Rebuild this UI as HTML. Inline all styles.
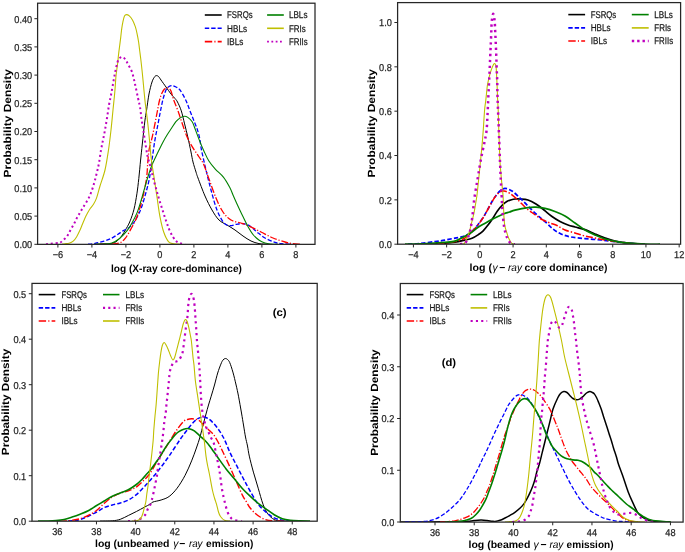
<!DOCTYPE html>
<html><head><meta charset="utf-8"><style>
html,body{margin:0;padding:0;background:#fff;width:685px;height:552px;overflow:hidden}
svg{will-change:transform;text-rendering:geometricPrecision;display:block;font-family:"Liberation Sans",sans-serif}
</style></head><body>
<svg width="685" height="552" viewBox="0 0 685 552">
<rect width="685" height="552" fill="#fff"/>
<defs>
<clipPath id="c1"><rect x="37.6" y="3.2" width="277.4" height="240.95"/></clipPath>
<clipPath id="c2"><rect x="397.6" y="2.6" width="283" height="241.4"/></clipPath>
<clipPath id="c3"><rect x="32" y="283.4" width="285.2" height="237.6"/></clipPath>
<clipPath id="c4"><rect x="400.3" y="283.5" width="282.8" height="238.4"/></clipPath>
</defs>
<g clip-path="url(#c1)" stroke-linejoin="round">
<path d="M95,244.2C96.67,244.17 102.5,244.07 105,244C107.5,243.93 108.2,244.15 110,243.8C111.8,243.45 113.88,243.17 115.8,241.9C117.72,240.63 119.75,238.43 121.5,236.2C123.25,233.97 124.85,231.07 126.3,228.5C127.75,225.93 128.92,224.02 130.2,220.8C131.48,217.58 132.88,213.7 134,209.2C135.12,204.7 136.1,198.92 136.9,193.8C137.7,188.68 138.18,184.13 138.8,178.5C139.42,172.87 140.03,165.58 140.6,160C141.17,154.42 141.7,149.67 142.2,145C142.7,140.33 143.13,136.17 143.6,132C144.07,127.83 144.5,123.67 145,120C145.5,116.33 145.93,114.33 146.6,110C147.27,105.67 148.1,98.67 149,94C149.9,89.33 151.08,84.83 152,82C152.92,79.17 153.78,78.07 154.5,77C155.22,75.93 155.63,75.68 156.3,75.6C156.97,75.52 157.72,75.77 158.5,76.5C159.28,77.23 159.75,78.25 161,80C162.25,81.75 164.33,84.67 166,87C167.67,89.33 169.5,92.08 171,94C172.5,95.92 173.92,97.17 175,98.5C176.08,99.83 176.45,99.93 177.5,102C178.55,104.07 180.12,107.25 181.3,110.9C182.48,114.55 183.52,119.55 184.6,123.9C185.68,128.25 186.73,132.32 187.8,137C188.87,141.68 190.13,147.83 191,152C191.87,156.17 192.17,158.67 193,162C193.83,165.33 195.17,169.33 196,172C196.83,174.67 196.5,174 198,178C199.5,182 202.67,190.67 205,196C207.33,201.33 209.67,206 212,210C214.33,214 216.5,217.5 219,220C221.5,222.5 224.33,223.33 227,225C229.67,226.67 232.33,228.17 235,230C237.67,231.83 240.33,234.17 243,236C245.67,237.83 248.33,239.73 251,241C253.67,242.27 256.17,243.07 259,243.6C261.83,244.13 266.5,244.1 268,244.2" stroke="#000000" stroke-width="1" fill="none"/>
<path d="M88,244.2C89.17,244.07 92.33,243.9 95,243.4C97.67,242.9 101.33,242.02 104,241.2C106.67,240.38 108.72,239.62 111,238.5C113.28,237.38 115.62,235.82 117.7,234.5C119.78,233.18 121.58,231.77 123.5,230.6C125.42,229.43 127.28,229.13 129.2,227.5C131.12,225.87 133.07,223.85 135,220.8C136.93,217.75 139.03,213.7 140.8,209.2C142.57,204.7 144.17,198.92 145.6,193.8C147.03,188.68 148.33,184.13 149.4,178.5C150.47,172.87 151.12,166.2 152,160C152.88,153.8 153.8,146.77 154.7,141.3C155.6,135.83 156.5,131.92 157.4,127.2C158.3,122.48 159.2,117.53 160.1,113C161,108.47 161.82,103.83 162.8,100C163.78,96.17 164.97,92.25 166,90C167.03,87.75 168,87.23 169,86.5C170,85.77 170.83,85.52 172,85.6C173.17,85.68 174.67,86.27 176,87C177.33,87.73 178.38,87.83 180,90C181.62,92.17 184.03,96.52 185.7,100C187.37,103.48 188.57,107.28 190,110.9C191.43,114.52 193.03,118.45 194.3,121.7C195.57,124.95 196.68,127.52 197.6,130.4C198.52,133.28 199.15,135.73 199.8,139C200.45,142.27 200.47,144.83 201.5,150C202.53,155.17 204.42,163.33 206,170C207.58,176.67 209.17,183.33 211,190C212.83,196.67 214.83,204.5 217,210C219.17,215.5 221.83,220.4 224,223C226.17,225.6 228,225.37 230,225.6C232,225.83 233.83,224.73 236,224.4C238.17,224.07 240.67,223.33 243,223.6C245.33,223.87 247.67,224.6 250,226C252.33,227.4 254.5,230 257,232C259.5,234 262,236.27 265,238C268,239.73 272,241.43 275,242.4C278,243.37 280.17,243.5 283,243.8C285.83,244.1 290.5,244.13 292,244.2" stroke="#0000ff" stroke-width="1.3" fill="none" stroke-dasharray="4.2 2"/>
<path d="M100,244.2C101.67,244.17 106.73,244.22 110,244C113.27,243.78 117.03,243.88 119.6,242.9C122.17,241.92 123.47,240.5 125.4,238.1C127.33,235.7 129.28,232.03 131.2,228.5C133.12,224.97 134.98,222.03 136.9,216.9C138.82,211.77 141.1,204.1 142.7,197.7C144.3,191.3 145.65,184.45 146.5,178.5C147.35,172.55 147.35,166.92 147.8,162C148.25,157.08 148.5,153 149.2,149C149.9,145 151.08,142 152,138C152.92,134 153.8,129.5 154.7,125C155.6,120.5 156.58,115.17 157.4,111C158.22,106.83 158.83,103 159.6,100C160.37,97 161.18,94.83 162,93C162.82,91.17 163.7,89.87 164.5,89C165.3,88.13 166.05,87.88 166.8,87.8C167.55,87.72 168.3,87.97 169,88.5C169.7,89.03 170.22,89.08 171,91C171.78,92.92 172.53,96.67 173.7,100C174.87,103.33 176.55,107 178,111C179.45,115 180.95,119.83 182.4,124C183.85,128.17 185.07,132.22 186.7,136C188.33,139.78 190.2,143.28 192.2,146.7C194.2,150.12 196.82,153.62 198.7,156.5C200.58,159.38 201.78,160.25 203.5,164C205.22,167.75 206.92,173.33 209,179C211.08,184.67 213.67,192.5 216,198C218.33,203.5 220.5,208.33 223,212C225.5,215.67 228,218.17 231,220C234,221.83 238,222 241,223C244,224 245.67,224.5 249,226C252.33,227.5 257,230 261,232C265,234 269,236.33 273,238C277,239.67 281.67,241.07 285,242C288.33,242.93 290.5,243.23 293,243.6C295.5,243.97 298.83,244.1 300,244.2" stroke="#ff0000" stroke-width="1.3" fill="none" stroke-dasharray="7 1.8 1.2 1.8"/>
<path d="M95,244.2C96.67,244.13 102.18,244.02 105,243.8C107.82,243.58 109.47,243.78 111.9,242.9C114.33,242.02 117.03,240.58 119.6,238.5C122.17,236.42 125.22,233.03 127.3,230.4C129.38,227.77 130.5,225.58 132.1,222.7C133.7,219.82 135.45,216.63 136.9,213.1C138.35,209.57 139.52,205.67 140.8,201.5C142.08,197.33 143.32,192.52 144.6,188.1C145.88,183.68 147.27,178.85 148.5,175C149.73,171.15 150.88,167.83 152,165C153.12,162.17 154.03,160.5 155.2,158C156.37,155.5 157.73,152.6 159,150C160.27,147.4 161.43,144.93 162.8,142.4C164.17,139.87 165.75,137.15 167.2,134.8C168.65,132.45 170.05,130.48 171.5,128.3C172.95,126.12 174.45,123.43 175.9,121.7C177.35,119.97 178.8,118.8 180.2,117.9C181.6,117 183.03,116.38 184.3,116.3C185.57,116.22 186.48,116.5 187.8,117.4C189.12,118.3 191.08,120.05 192.2,121.7C193.32,123.35 193.32,124.23 194.5,127.3C195.68,130.37 197.7,136.08 199.3,140.1C200.9,144.12 202.5,147.92 204.1,151.4C205.7,154.88 207.03,158.05 208.9,161C210.77,163.95 212.88,166.42 215.3,169.1C217.72,171.78 220.98,174.03 223.4,177.1C225.82,180.17 228.2,184.52 229.8,187.5C231.4,190.48 231.8,192.25 233,195C234.2,197.75 235.55,200.83 237,204C238.45,207.17 239.95,210.38 241.7,214C243.45,217.62 245.55,222.2 247.5,225.7C249.45,229.2 251.45,232.57 253.4,235C255.35,237.43 257.27,238.97 259.2,240.3C261.13,241.63 263.03,242.38 265,243C266.97,243.62 268.83,243.78 271,244C273.17,244.22 276.83,244.25 278,244.3" stroke="#008000" stroke-width="1.1" fill="none"/>
<path d="M62,244.2C62.5,244.13 63.82,243.97 65,243.8C66.18,243.63 67.73,243.63 69.1,243.2C70.47,242.77 71.93,242.28 73.2,241.2C74.47,240.12 75.6,238.47 76.7,236.7C77.8,234.93 78.87,232.63 79.8,230.6C80.73,228.57 81.47,226.53 82.3,224.5C83.13,222.47 83.95,220.27 84.8,218.4C85.65,216.53 86.47,214.98 87.4,213.3C88.33,211.62 89.38,209.82 90.4,208.3C91.42,206.78 92.48,205.9 93.5,204.2C94.52,202.5 95.42,201.13 96.5,198.1C97.58,195.07 98.58,190.68 100,186C101.42,181.32 103.58,176 105,170C106.42,164 107.5,156.67 108.5,150C109.5,143.33 110.25,136.67 111,130C111.75,123.33 112.37,116.33 113,110C113.63,103.67 114.3,97.67 114.8,92C115.3,86.33 115.53,80.72 116,76C116.47,71.28 117.18,67.2 117.6,63.7C118.02,60.2 118.17,57.9 118.5,55C118.83,52.1 119.23,49.2 119.6,46.3C119.97,43.4 120.35,40.5 120.7,37.6C121.05,34.7 121.32,31.62 121.7,28.9C122.08,26.18 122.53,23.47 123,21.3C123.47,19.13 123.93,17.02 124.5,15.9C125.07,14.78 125.6,14.6 126.4,14.6C127.2,14.6 128.27,14.97 129.3,15.9C130.33,16.83 131.6,18.4 132.6,20.2C133.6,22 134.57,24.52 135.3,26.7C136.03,28.88 136.45,30.75 137,33.3C137.55,35.85 138.15,39.1 138.6,42C139.05,44.9 139.33,47.82 139.7,50.7C140.07,53.58 140.42,56.08 140.8,59.3C141.18,62.52 141.63,66.55 142,70C142.37,73.45 142.52,75 143,80C143.48,85 144.32,94.5 144.9,100C145.48,105.5 145.95,108.47 146.5,113C147.05,117.53 147.65,122.12 148.2,127.2C148.75,132.28 149.28,138.17 149.8,143.5C150.32,148.83 150.57,153.37 151.3,159.2C152.03,165.03 153.23,172.08 154.2,178.5C155.17,184.92 156.13,191.3 157.1,197.7C158.07,204.1 158.88,211.13 160,216.9C161.12,222.67 162.35,228.13 163.8,232.3C165.25,236.47 167,239.98 168.7,241.9C170.4,243.82 172.12,243.42 174,243.8C175.88,244.18 179,244.13 180,244.2" stroke="#bfbf00" stroke-width="1.1" fill="none"/>
<path d="M46,244.2C46.67,244.13 48.33,243.97 50,243.8C51.67,243.63 54.33,243.38 56,243.2C57.67,243.02 58.87,243.17 60,242.7C61.13,242.23 61.78,241.28 62.8,240.4C63.82,239.52 65.13,238.5 66.1,237.4C67.07,236.3 67.85,235.07 68.6,233.8C69.35,232.53 69.87,231.15 70.6,229.8C71.33,228.45 72.23,227.07 73,225.7C73.77,224.33 74.5,222.98 75.2,221.6C75.9,220.22 76.48,218.75 77.2,217.4C77.92,216.05 78.73,214.82 79.5,213.5C80.27,212.18 81.03,210.8 81.8,209.5C82.57,208.2 83.3,207 84.1,205.7C84.9,204.4 85.8,203.05 86.6,201.7C87.4,200.35 88.18,199.05 88.9,197.6C89.62,196.15 90.22,194.77 90.9,193C91.58,191.23 92.32,189.17 93,187C93.68,184.83 94.33,182.5 95,180C95.67,177.5 96.33,174.83 97,172C97.67,169.17 98.33,166.67 99,163C99.67,159.33 100.33,153.83 101,150C101.67,146.17 102.33,143.33 103,140C103.67,136.67 104.33,133.67 105,130C105.67,126.33 106.33,122.17 107,118C107.67,113.83 108.33,108.83 109,105C109.67,101.17 110.33,98.5 111,95C111.67,91.5 112.33,87.67 113,84C113.67,80.33 114.27,76.57 115,73C115.73,69.43 116.68,65.02 117.4,62.6C118.12,60.18 118.4,59.43 119.3,58.5C120.2,57.57 121.7,56.68 122.8,57C123.9,57.32 125.03,59.2 125.9,60.4C126.77,61.6 126.98,62.27 128,64.2C129.02,66.13 130.83,68.7 132,72C133.17,75.3 134,79.67 135,84C136,88.33 137.17,94.17 138,98C138.83,101.83 139.4,103.4 140,107C140.6,110.6 141.05,115.7 141.6,119.6C142.15,123.5 142.67,126.42 143.3,130.4C143.93,134.38 144.68,139.15 145.4,143.5C146.12,147.85 146.75,152.58 147.6,156.5C148.45,160.42 149.55,163.33 150.5,167C151.45,170.67 152.03,173.7 153.3,178.5C154.57,183.3 156.5,190.35 158.1,195.8C159.7,201.25 161.47,206.72 162.9,211.2C164.33,215.68 165.58,219.5 166.7,222.7C167.82,225.9 168.55,228.02 169.6,230.4C170.65,232.78 171.93,235.23 173,237C174.07,238.77 174.83,239.97 176,241C177.17,242.03 178.5,242.67 180,243.2C181.5,243.73 184.17,244.03 185,244.2" stroke="#bf00bf" stroke-width="2" fill="none" stroke-dasharray="2 2.8"/>
</g>
<g clip-path="url(#c2)" stroke-linejoin="round">
<path d="M420,244.2C423.33,244.1 434.17,243.95 440,243.6C445.83,243.25 450.93,242.67 455,242.1C459.07,241.53 461.57,240.83 464.4,240.2C467.23,239.57 469.65,239.25 472,238.3C474.35,237.35 476.63,235.75 478.5,234.5C480.37,233.25 481.62,232.37 483.2,230.8C484.78,229.23 486.42,227.15 488,225.1C489.58,223.05 491.13,220.85 492.7,218.5C494.27,216.15 495.83,213.18 497.4,211C498.97,208.82 500.53,206.97 502.1,205.4C503.67,203.83 505.23,202.55 506.8,201.6C508.37,200.65 510.05,200.13 511.5,199.7C512.95,199.27 514.08,199.12 515.5,199C516.92,198.88 517.92,198.83 520,199C522.08,199.17 525.33,199.17 528,200C530.67,200.83 533.33,202.33 536,204C538.67,205.67 541.33,207.92 544,210C546.67,212.08 549.33,214.58 552,216.5C554.67,218.42 557.33,220.08 560,221.5C562.67,222.92 565.5,224.08 568,225C570.5,225.92 572.17,226.23 575,227C577.83,227.77 581.67,228.43 585,229.6C588.33,230.77 591.67,232.6 595,234C598.33,235.4 601.67,236.83 605,238C608.33,239.17 611,240.13 615,241C619,241.87 624,242.67 629,243.2C634,243.73 642.33,244.03 645,244.2" stroke="#000000" stroke-width="1.7" fill="none"/>
<path d="M408,244.2C410,244.07 415.5,243.83 420,243.4C424.5,242.97 430.83,242.15 435,241.6C439.17,241.05 441.67,240.68 445,240.1C448.33,239.52 452.4,238.6 455,238.1C457.6,237.6 459.03,237.43 460.6,237.1C462.17,236.77 462.98,236.68 464.4,236.1C465.82,235.52 467.53,234.7 469.1,233.6C470.67,232.5 472.23,231.1 473.8,229.5C475.37,227.9 476.93,226.02 478.5,224C480.07,221.98 481.62,219.9 483.2,217.4C484.78,214.9 486.42,211.82 488,209C489.58,206.18 491.3,202.83 492.7,200.5C494.1,198.17 495.18,196.58 496.4,195C497.62,193.42 498.57,192.1 500,191C501.43,189.9 503,188.4 505,188.4C507,188.4 509.5,189.4 512,191C514.5,192.6 517.33,195.5 520,198C522.67,200.5 525.33,203.33 528,206C530.67,208.67 533.17,211.42 536,214C538.83,216.58 542.17,219 545,221.5C547.83,224 550.33,226.92 553,229C555.67,231.08 558,232.67 561,234C564,235.33 567,236.23 571,237C575,237.77 580,238.1 585,238.6C590,239.1 596,239.5 601,240C606,240.5 610.33,241.07 615,241.6C619.67,242.13 624,242.77 629,243.2C634,243.63 642.33,244.03 645,244.2" stroke="#0000ff" stroke-width="1.7" fill="none" stroke-dasharray="4.4 2.2"/>
<path d="M425,244.2C427.5,244.1 435,244.03 440,243.6C445,243.17 450.93,242.48 455,241.6C459.07,240.72 462.05,239.48 464.4,238.3C466.75,237.12 467.53,235.92 469.1,234.5C470.67,233.08 472.23,231.52 473.8,229.8C475.37,228.08 476.93,226.23 478.5,224.2C480.07,222.17 481.62,220.12 483.2,217.6C484.78,215.08 486.42,211.93 488,209.1C489.58,206.27 491.3,202.92 492.7,200.6C494.1,198.28 495.18,196.63 496.4,195.2C497.62,193.77 498.73,192.7 500,192C501.27,191.3 502.33,190.75 504,191C505.67,191.25 507.67,192 510,193.5C512.33,195 515.33,197.58 518,200C520.67,202.42 523.33,205.67 526,208C528.67,210.33 531.33,212.08 534,214C536.67,215.92 539.33,218 542,219.5C544.67,221 547.5,222 550,223C552.5,224 554.5,224.33 557,225.5C559.5,226.67 562,228.75 565,230C568,231.25 571.67,232 575,233C578.33,234 581.67,235.17 585,236C588.33,236.83 591.67,237.33 595,238C598.33,238.67 601.67,239.4 605,240C608.33,240.6 611,241.07 615,241.6C619,242.13 624,242.77 629,243.2C634,243.63 642.33,244.03 645,244.2" stroke="#ff0000" stroke-width="1.5" fill="none" stroke-dasharray="7 2 1.4 2"/>
<path d="M405,244.2C407.5,244.13 415,244 420,243.8C425,243.6 430.83,243.25 435,243C439.17,242.75 441.67,242.62 445,242.3C448.33,241.98 451.77,242.08 455,241.1C458.23,240.12 461.73,237.8 464.4,236.4C467.07,235 468.65,234.27 471,232.7C473.35,231.13 476.15,228.58 478.5,227C480.85,225.42 483.05,224.37 485.1,223.2C487.15,222.03 488.75,221.08 490.8,220C492.85,218.92 495.2,217.73 497.4,216.7C499.6,215.67 501.97,214.58 504,213.8C506.03,213.02 507.77,212.62 509.6,212C511.43,211.38 511.93,210.83 515,210.1C518.07,209.37 524.5,208.08 528,207.6C531.5,207.12 533.17,207.07 536,207.2C538.83,207.33 541.83,207.68 545,208.4C548.17,209.12 551.67,210.23 555,211.5C558.33,212.77 561.67,214.08 565,216C568.33,217.92 571.67,220.67 575,223C578.33,225.33 581.67,228 585,230C588.33,232 591.67,233.5 595,235C598.33,236.5 601.33,237.9 605,239C608.67,240.1 613,240.9 617,241.6C621,242.3 624.33,242.77 629,243.2C633.67,243.63 639.83,244.03 645,244.2C650.17,244.37 657.5,244.2 660,244.2" stroke="#008000" stroke-width="1.7" fill="none"/>
<path d="M462,244.2C462.4,244.05 463.68,244.12 464.4,243.3C465.12,242.48 465.52,241.07 466.3,239.3C467.08,237.53 468.23,235.38 469.1,232.7C469.97,230.02 470.72,226.35 471.5,223.2C472.28,220.05 473.13,216.93 473.8,213.8C474.47,210.67 474.97,207.53 475.5,204.4C476.03,201.27 476.48,199.07 477,195C477.52,190.93 478.1,184.83 478.6,180C479.1,175.17 479.53,170.67 480,166C480.47,161.33 480.98,156.33 481.4,152C481.82,147.67 482.17,144 482.5,140C482.83,136 483.05,133 483.4,128C483.75,123 484.22,114.5 484.6,110C484.98,105.5 485.38,103.75 485.7,101C486.02,98.25 486.23,96 486.5,93.5C486.77,91 486.98,88.18 487.3,86C487.62,83.82 487.95,82.42 488.4,80.4C488.85,78.38 489.37,76.07 490,73.9C490.63,71.73 491.48,69.12 492.2,67.4C492.92,65.68 493.67,63.78 494.3,63.6C494.93,63.42 495.6,64.03 496,66.3C496.4,68.57 496.5,73.58 496.7,77.2C496.9,80.82 497.05,84.38 497.2,88C497.35,91.62 497.43,95.23 497.6,98.9C497.77,102.57 498.02,105.27 498.2,110C498.38,114.73 498.52,121.8 498.7,127.3C498.88,132.8 499.08,137.22 499.3,143C499.52,148.78 499.63,155.83 500,162C500.37,168.17 501,174.5 501.5,180C502,185.5 502.67,190.62 503,195C503.33,199.38 503.33,202.53 503.5,206.3C503.67,210.07 503.77,214.3 504,217.6C504.23,220.9 504.43,223.58 504.9,226.1C505.37,228.62 506.17,230.67 506.8,232.7C507.43,234.73 507.92,236.58 508.7,238.3C509.48,240.02 510.62,242.02 511.5,243C512.38,243.98 513.58,244 514,244.2" stroke="#bfbf00" stroke-width="1.1" fill="none"/>
<path d="M460,244.2C460.82,244.05 463.7,244.12 464.9,243.3C466.1,242.48 466.5,240.77 467.2,239.3C467.9,237.83 468.55,236.23 469.1,234.5C469.65,232.77 470.1,230.78 470.5,228.9C470.9,227.02 471.18,225.32 471.5,223.2C471.82,221.08 472.08,218.87 472.4,216.2C472.72,213.53 473.08,210.1 473.4,207.2C473.72,204.3 473.82,202.25 474.3,198.8C474.78,195.35 475.6,190.72 476.3,186.5C477,182.28 477.7,178.2 478.5,173.5C479.3,168.8 480.13,163.38 481.1,158.3C482.07,153.22 483.4,147.55 484.3,143C485.2,138.45 485.97,135.67 486.5,131C487.03,126.33 487.22,120.17 487.5,115C487.78,109.83 487.97,104.95 488.2,100C488.43,95.05 488.68,89.73 488.9,85.3C489.12,80.87 489.32,77.38 489.5,73.4C489.68,69.42 489.83,65.3 490,61.4C490.17,57.5 490.37,52.87 490.5,50C490.63,47.13 490.67,47.28 490.8,44.2C490.93,41.12 491.13,35.37 491.3,31.5C491.47,27.63 491.48,23.95 491.8,21C492.12,18.05 492.73,13.88 493.2,13.8C493.67,13.72 494.27,17.55 494.6,20.5C494.93,23.45 495,27.55 495.2,31.5C495.4,35.45 495.62,40.03 495.8,44.2C495.98,48.37 496.15,52.45 496.3,56.5C496.45,60.55 496.55,64.52 496.7,68.5C496.85,72.48 497.08,76.42 497.2,80.4C497.32,84.38 497.3,88.42 497.4,92.4C497.5,96.38 497.67,100.53 497.8,104.3C497.93,108.07 498.05,111.17 498.2,115C498.35,118.83 498.52,122.63 498.7,127.3C498.88,131.97 499.08,137.22 499.3,143C499.52,148.78 499.75,155.83 500,162C500.25,168.17 500.53,174.5 500.8,180C501.07,185.5 501.38,190.62 501.6,195C501.82,199.38 501.87,202.53 502.1,206.3C502.33,210.07 502.68,214.3 503,217.6C503.32,220.9 503.6,223.58 504,226.1C504.4,228.62 504.85,230.67 505.4,232.7C505.95,234.73 506.6,236.73 507.3,238.3C508,239.87 508.75,241.15 509.6,242.1C510.45,243.05 511.5,243.65 512.4,244C513.3,244.35 514.57,244.17 515,244.2" stroke="#bf00bf" stroke-width="2.5" fill="none" stroke-dasharray="2.3 3.6"/>
</g>
<g clip-path="url(#c3)" stroke-linejoin="round">
<path d="M100,521.1C102.05,521.05 108.92,521.1 112.3,520.8C115.68,520.5 117.63,520.18 120.3,519.3C122.97,518.42 125.62,516.8 128.3,515.5C130.98,514.2 133.72,512.88 136.4,511.5C139.08,510.12 142.13,508.42 144.4,507.2C146.67,505.98 148.57,505.07 150,504.2C151.43,503.33 151.15,502.7 153,502C154.85,501.3 158.42,500.92 161.1,500C163.78,499.08 166.43,498.47 169.1,496.5C171.77,494.53 174.43,491.73 177.1,488.2C179.77,484.67 182.68,479.85 185.1,475.3C187.52,470.75 189.72,465.45 191.6,460.9C193.48,456.35 195,451.98 196.4,448C197.8,444.02 198.87,440.92 200,437C201.13,433.08 202.2,428.33 203.2,424.5C204.2,420.67 205.12,417.25 206,414C206.88,410.75 207.63,407.97 208.5,405C209.37,402.03 210.2,399.53 211.2,396.2C212.2,392.87 213.42,388.87 214.5,385C215.58,381.13 216.63,376.48 217.7,373C218.77,369.52 220.02,366.27 220.9,364.1C221.78,361.93 222.25,360.93 223,360C223.75,359.07 224.65,358.58 225.4,358.5C226.15,358.42 226.78,358.83 227.5,359.5C228.22,360.17 228.8,360.4 229.7,362.5C230.6,364.6 231.83,368.35 232.9,372.1C233.97,375.85 235.17,380.98 236.1,385C237.03,389.02 237.6,391.53 238.5,396.2C239.4,400.87 240.67,408.2 241.5,413C242.33,417.8 242.83,421 243.5,425C244.17,429 244.83,433.5 245.5,437C246.17,440.5 246.87,442.82 247.5,446C248.13,449.18 248.32,451.75 249.3,456.1C250.28,460.45 251.92,466.75 253.4,472.1C254.88,477.45 256.6,482.85 258.2,488.2C259.8,493.55 261.4,499.92 263,504.2C264.6,508.48 265.93,511.35 267.8,513.9C269.67,516.45 272.05,518.35 274.2,519.5C276.35,520.65 278.07,520.53 280.7,520.8C283.33,521.07 288.45,521.05 290,521.1" stroke="#000000" stroke-width="1" fill="none"/>
<path d="M68,521.1C69.17,521.02 72.98,520.87 75,520.6C77.02,520.33 77.9,520.22 80.1,519.5C82.3,518.78 85.52,517.5 88.2,516.3C90.88,515.1 93.53,513.75 96.2,512.3C98.87,510.85 101.52,508.82 104.2,507.6C106.88,506.38 109.62,505.77 112.3,505C114.98,504.23 117.63,503.83 120.3,503C122.97,502.17 125.62,501.4 128.3,500C130.98,498.6 133.72,496.83 136.4,494.6C139.08,492.37 141.63,489.53 144.4,486.6C147.17,483.67 150.22,480.27 153,477C155.78,473.73 158.42,470.5 161.1,467C163.78,463.5 165.93,460.58 169.1,456C172.27,451.42 176.9,444.08 180.1,439.5C183.3,434.92 185.87,431.58 188.3,428.5C190.73,425.42 192.95,422.72 194.7,421C196.45,419.28 197.42,418.87 198.8,418.2C200.18,417.53 201.63,417.03 203,417C204.37,416.97 205.72,417.43 207,418C208.28,418.57 209.02,418.8 210.7,420.4C212.38,422 214.93,424.67 217.1,427.6C219.27,430.53 221.53,433.8 223.7,438C225.87,442.2 227.93,448.18 230.1,452.8C232.27,457.42 234.5,461.42 236.7,465.7C238.9,469.98 241.12,474.37 243.3,478.5C245.48,482.63 247.32,486.22 249.8,490.5C252.28,494.78 255.47,500.57 258.2,504.2C260.93,507.83 263.53,510.02 266.2,512.3C268.87,514.58 271.52,516.57 274.2,517.9C276.88,519.23 279.33,519.77 282.3,520.3C285.27,520.83 290.38,520.97 292,521.1" stroke="#0000ff" stroke-width="1.5" fill="none" stroke-dasharray="4.4 2.2"/>
<path d="M60,521.1C61,521.07 63.98,521.03 66,520.9C68.02,520.77 69.75,520.67 72.1,520.3C74.45,519.93 77.42,519.5 80.1,518.7C82.78,517.9 85.52,516.83 88.2,515.5C90.88,514.17 93.53,512.72 96.2,510.7C98.87,508.68 101.52,505.68 104.2,503.4C106.88,501.12 109.62,498.73 112.3,497C114.98,495.27 117.63,494.03 120.3,493C122.97,491.97 125.58,491.83 128.3,490.8C131.02,489.77 133.88,488.68 136.6,486.8C139.32,484.92 142.37,481.72 144.6,479.5C146.83,477.28 148.07,476.25 150,473.5C151.93,470.75 153.83,466.92 156.2,463C158.57,459.08 161.78,453.92 164.2,450C166.62,446.08 168.55,442.92 170.7,439.5C172.85,436.08 174.97,432.5 177.1,429.5C179.23,426.5 181.77,423.17 183.5,421.5C185.23,419.83 186.12,419.95 187.5,419.5C188.88,419.05 190.55,418.85 191.8,418.8C193.05,418.75 193.8,418.93 195,419.2C196.2,419.47 197.43,419.32 199,420.4C200.57,421.48 202.57,423.93 204.4,425.7C206.23,427.47 208.42,429.45 210,431C211.58,432.55 212.7,433.42 213.9,435C215.1,436.58 216.13,438.58 217.2,440.5C218.27,442.42 219.28,444.45 220.3,446.5C221.32,448.55 221.73,449.47 223.3,452.8C224.87,456.13 227.57,461.8 229.7,466.5C231.83,471.2 233.97,476.18 236.1,481C238.23,485.82 240.77,491.9 242.5,495.4C244.23,498.9 245.25,499.93 246.5,502C247.75,504.07 248.57,505.93 250,507.8C251.43,509.67 253.4,511.67 255.1,513.2C256.8,514.73 258.5,515.95 260.2,517C261.9,518.05 263.33,518.87 265.3,519.5C267.27,520.13 268.88,520.52 272,520.8C275.12,521.08 282,521.13 284,521.2" stroke="#ff0000" stroke-width="1.4" fill="none" stroke-dasharray="7 2 1.2 2"/>
<path d="M38,521.1C39.67,521.08 45,521.08 48,521C51,520.92 53.32,520.85 56,520.6C58.68,520.35 61.42,520.08 64.1,519.5C66.78,518.92 69.43,517.98 72.1,517.1C74.77,516.22 77.42,515.27 80.1,514.2C82.78,513.13 85.52,512.1 88.2,510.7C90.88,509.3 93.53,507.42 96.2,505.8C98.87,504.18 101.52,502.6 104.2,501C106.88,499.4 109.62,497.53 112.3,496.2C114.98,494.87 117.63,494.07 120.3,493C122.97,491.93 125.62,491.22 128.3,489.8C130.98,488.38 134.08,486.27 136.4,484.5C138.72,482.73 140.52,480.9 142.2,479.2C143.88,477.5 145.05,475.92 146.5,474.3C147.95,472.68 149.45,471.3 150.9,469.5C152.35,467.7 153.75,465.55 155.2,463.5C156.65,461.45 158.15,459.45 159.6,457.2C161.05,454.95 162.45,452.3 163.9,450C165.35,447.7 166.85,445.42 168.3,443.4C169.75,441.38 171.15,439.63 172.6,437.9C174.05,436.17 175.55,434.27 177,433C178.45,431.73 179.85,431.02 181.3,430.3C182.75,429.58 184.25,428.93 185.7,428.7C187.15,428.47 188.57,428.53 190,428.9C191.43,429.27 192.67,429.75 194.3,430.9C195.93,432.05 198.02,434.2 199.8,435.8C201.58,437.4 203.3,438.73 205,440.5C206.7,442.27 207.83,443.53 210,446.4C212.17,449.27 215.32,453.95 218,457.7C220.68,461.45 223.42,465.43 226.1,468.9C228.78,472.37 231.43,475.28 234.1,478.5C236.77,481.72 239.43,485.25 242.1,488.2C244.77,491.15 247.42,493.67 250.1,496.2C252.78,498.73 255.52,501.25 258.2,503.4C260.88,505.55 263.53,507.22 266.2,509.1C268.87,510.98 271.52,513.1 274.2,514.7C276.88,516.3 279.62,517.77 282.3,518.7C284.98,519.63 287.35,519.93 290.3,520.3C293.25,520.67 296.72,520.77 300,520.9C303.28,521.03 308.33,521.07 310,521.1" stroke="#008000" stroke-width="1.6" fill="none"/>
<path d="M128,521.1C129.12,521.05 132.87,521.07 134.7,520.8C136.53,520.53 137.65,520.13 139,519.5C140.35,518.87 141.67,517.92 142.8,517C143.93,516.08 145,515.25 145.8,514C146.6,512.75 146.93,510.83 147.6,509.5C148.27,508.17 149.1,507.58 149.8,506C150.5,504.42 151.13,502.43 151.8,500C152.47,497.57 153.2,494.15 153.8,491.4C154.4,488.65 154.87,486.18 155.4,483.5C155.93,480.82 156.6,477.7 157,475.3C157.4,472.9 157.43,471.65 157.8,469.1C158.17,466.55 158.8,462.52 159.2,460C159.6,457.48 159.83,456.33 160.2,454C160.57,451.67 161,448.67 161.4,446C161.8,443.33 162.23,440.8 162.6,438C162.97,435.2 163.3,432.03 163.6,429.2C163.9,426.37 164.05,423.67 164.4,421C164.75,418.33 165.35,416.03 165.7,413.2C166.05,410.37 166.23,406.68 166.5,404C166.77,401.32 166.9,400.93 167.3,397.1C167.7,393.27 168.5,385.1 168.9,381C169.3,376.9 169.3,374.9 169.7,372.5C170.1,370.1 170.63,368.3 171.3,366.6C171.97,364.9 172.92,363.15 173.7,362.3C174.48,361.45 175.2,361.8 176,361.5C176.8,361.2 177.7,361.25 178.5,360.5C179.3,359.75 180.12,358.35 180.8,357C181.48,355.65 182.03,355.03 182.6,352.4C183.17,349.77 183.67,345.2 184.2,341.2C184.73,337.2 185.27,332.42 185.8,328.4C186.33,324.38 187,320.85 187.4,317.1C187.8,313.35 187.93,308.83 188.2,305.9C188.47,302.97 188.67,301.23 189,299.5C189.33,297.77 189.8,296.45 190.2,295.5C190.6,294.55 191,293.8 191.4,293.8C191.8,293.8 192.2,294.55 192.6,295.5C193,296.45 193.47,297.77 193.8,299.5C194.13,301.23 194.33,302.97 194.6,305.9C194.87,308.83 195.13,313.35 195.4,317.1C195.67,320.85 195.93,324.38 196.2,328.4C196.47,332.42 196.68,337.2 197,341.2C197.32,345.2 197.75,348.52 198.1,352.4C198.45,356.28 198.83,361.23 199.1,364.5C199.37,367.77 199.52,369.25 199.7,372C199.88,374.75 199.98,376.82 200.2,381C200.42,385.18 200.6,391.73 201,397.1C201.4,402.47 201.8,408.38 202.6,413.2C203.4,418.02 204.82,422.87 205.8,426C206.78,429.13 207.68,430.12 208.5,432C209.32,433.88 209.95,435.8 210.7,437.3C211.45,438.8 212.37,439.55 213,441C213.63,442.45 213.92,443.48 214.5,446C215.08,448.52 215.77,452.55 216.5,456.1C217.23,459.65 218.23,463.65 218.9,467.3C219.57,470.95 219.97,474.25 220.5,478C221.03,481.75 221.43,485.97 222.1,489.8C222.77,493.63 223.57,497.25 224.5,501C225.43,504.75 226.5,509.35 227.7,512.3C228.9,515.25 230.23,517.33 231.7,518.7C233.17,520.07 234.78,520.1 236.5,520.5C238.22,520.9 241.08,521 242,521.1" stroke="#bf00bf" stroke-width="2.2" fill="none" stroke-dasharray="2.2 3.7"/>
<path d="M132,521.1C132.73,521.05 135.15,521.07 136.4,520.8C137.65,520.53 138.65,520.13 139.5,519.5C140.35,518.87 140.92,518.08 141.5,517C142.08,515.92 142.52,514.6 143,513C143.48,511.4 143.93,509.23 144.4,507.4C144.87,505.57 145.4,504.23 145.8,502C146.2,499.77 146.43,496.67 146.8,494C147.17,491.33 147.6,489.12 148,486C148.4,482.88 148.77,478.97 149.2,475.3C149.63,471.63 150.13,467.88 150.6,464C151.07,460.12 151.57,456 152,452C152.43,448 152.9,443.67 153.2,440C153.5,436.33 153.5,434 153.8,430C154.1,426 154.62,420.17 155,416C155.38,411.83 155.73,409.33 156.1,405C156.47,400.67 156.9,394.17 157.2,390C157.5,385.83 157.68,383 157.9,380C158.12,377 158.23,374.83 158.5,372C158.77,369.17 159.1,366.27 159.5,363C159.9,359.73 160.43,355.32 160.9,352.4C161.37,349.48 161.77,347.15 162.3,345.5C162.83,343.85 163.52,342.67 164.1,342.5C164.68,342.33 165.13,343.38 165.8,344.5C166.47,345.62 167.32,347.37 168.1,349.2C168.88,351.03 169.7,353.7 170.5,355.5C171.3,357.3 172.18,359.75 172.9,360C173.62,360.25 174.13,358.8 174.8,357C175.47,355.2 176.2,351.87 176.9,349.2C177.6,346.53 178.32,343.67 179,341C179.68,338.33 180.3,336.03 181,333.2C181.7,330.37 182.47,326.28 183.2,324C183.93,321.72 184.72,319.83 185.4,319.5C186.08,319.17 186.7,320.52 187.3,322C187.9,323.48 188.5,326.23 189,328.4C189.5,330.57 189.9,332.87 190.3,335C190.7,337.13 190.95,337.48 191.4,341.2C191.85,344.92 192.57,353.33 193,357.3C193.43,361.27 193.6,361.05 194,365C194.4,368.95 194.77,375.65 195.4,381C196.03,386.35 197,391.73 197.8,397.1C198.6,402.47 199.4,407.85 200.2,413.2C201,418.55 201.9,424.4 202.6,429.2C203.3,434 203.83,437.52 204.4,442C204.97,446.48 205.48,452.27 206,456.1C206.52,459.93 206.93,462.02 207.5,465C208.07,467.98 208.58,469.83 209.4,474C210.22,478.17 211.55,486 212.4,490C213.25,494 213.82,495.63 214.5,498C215.18,500.37 215.83,501.87 216.5,504.2C217.17,506.53 217.83,509.95 218.5,512C219.17,514.05 219.5,515.12 220.5,516.5C221.5,517.88 222.92,519.53 224.5,520.3C226.08,521.07 229.08,520.97 230,521.1" stroke="#bfbf00" stroke-width="1.1" fill="none"/>
</g>
<g clip-path="url(#c4)" stroke-linejoin="round">
<path d="M401,522C405.83,521.98 420.17,521.95 430,521.9C439.83,521.85 453.67,521.8 460,521.7C466.33,521.6 465.67,521.48 468,521.3C470.33,521.12 471.83,520.8 474,520.6C476.17,520.4 478.83,520.12 481,520.1C483.17,520.08 485.17,520.32 487,520.5C488.83,520.68 490.67,521.05 492,521.2C493.33,521.35 493.67,521.55 495,521.4C496.33,521.25 498.33,520.87 500,520.3C501.67,519.73 503.33,518.83 505,518C506.67,517.17 508.35,516.25 510,515.3C511.65,514.35 513.25,513.47 514.9,512.3C516.55,511.13 518.4,509.7 519.9,508.3C521.4,506.9 522.73,505.47 523.9,503.9C525.07,502.33 525.9,500.73 526.9,498.9C527.9,497.07 528.92,495.07 529.9,492.9C530.88,490.73 531.98,488.05 532.8,485.9C533.62,483.75 534.15,482.28 534.8,480C535.45,477.72 535.92,474.95 536.7,472.2C537.48,469.45 538.58,466.77 539.5,463.5C540.42,460.23 541.3,456.23 542.2,452.6C543.1,448.97 544,445.32 544.9,441.7C545.8,438.08 546.7,434.52 547.6,430.9C548.5,427.28 549.4,423.63 550.3,420C551.2,416.37 551.75,412.8 553,409.1C554.25,405.4 556.55,400.4 557.8,397.8C559.05,395.2 559.5,394.55 560.5,393.5C561.5,392.45 562.72,391.67 563.8,391.5C564.88,391.33 566.03,391.88 567,392.5C567.97,393.12 568.6,394.2 569.6,395.2C570.6,396.2 571.83,397.73 573,398.5C574.17,399.27 575.43,399.75 576.6,399.8C577.77,399.85 578.93,399.35 580,398.8C581.07,398.25 581.92,397.47 583,396.5C584.08,395.53 585.37,393.83 586.5,393C587.63,392.17 588.8,391.58 589.8,391.5C590.8,391.42 591.72,392.07 592.5,392.5C593.28,392.93 593.83,393.27 594.5,394.1C595.17,394.93 595.83,396.17 596.5,397.5C597.17,398.83 597.72,400.17 598.5,402.1C599.28,404.03 600.37,406.7 601.2,409.1C602.03,411.5 602.65,413.85 603.5,416.5C604.35,419.15 605.38,422.17 606.3,425C607.22,427.83 608.15,430.88 609,433.5C609.85,436.12 610.65,438.28 611.4,440.7C612.15,443.12 612.68,445.37 613.5,448C614.32,450.63 615.48,453.83 616.3,456.5C617.12,459.17 617.32,460.75 618.4,464C619.48,467.25 621.2,471.43 622.8,476C624.4,480.57 626.33,486.97 628,491.4C629.67,495.83 631.2,499.12 632.8,502.6C634.4,506.08 636,509.88 637.6,512.3C639.2,514.72 640.52,515.77 642.4,517.1C644.28,518.43 646.22,519.55 648.9,520.3C651.58,521.05 654.98,521.32 658.5,521.6C662.02,521.88 668.08,521.93 670,522" stroke="#000000" stroke-width="1.5" fill="none"/>
<path d="M405,522C406.67,521.98 412.17,521.97 415,521.9C417.83,521.83 419.83,521.75 422,521.6C424.17,521.45 425.65,521.48 428,521C430.35,520.52 433.42,519.87 436.1,518.7C438.78,517.53 441.43,515.88 444.1,514C446.77,512.12 449.43,509.83 452.1,507.4C454.77,504.97 457.68,502.33 460.1,499.4C462.52,496.47 464.45,493.28 466.6,489.8C468.75,486.32 470.87,482.52 473,478.5C475.13,474.48 477.82,468.95 479.4,465.7C480.98,462.45 481.43,461.2 482.5,459C483.57,456.8 484.63,454.92 485.8,452.5C486.97,450.08 488.18,447.42 489.5,444.5C490.82,441.58 492.45,437.75 493.7,435C494.95,432.25 495.87,430.37 497,428C498.13,425.63 499.33,423.13 500.5,420.8C501.67,418.47 502.75,416.5 504,414C505.25,411.5 506.83,407.88 508,405.8C509.17,403.72 509.92,402.88 511,401.5C512.08,400.12 513.42,398.55 514.5,397.5C515.58,396.45 516.5,395.7 517.5,395.2C518.5,394.7 519.5,394.45 520.5,394.5C521.5,394.55 522.37,394.92 523.5,395.5C524.63,396.08 526.13,396.92 527.3,398C528.47,399.08 529.42,400.5 530.5,402C531.58,403.5 532.72,405.17 533.8,407C534.88,408.83 535.92,410.83 537,413C538.08,415.17 538.9,417.02 540.3,420C541.7,422.98 543.82,427.28 545.4,430.9C546.98,434.52 548.35,438.45 549.8,441.7C551.25,444.95 552.82,447.77 554.1,450.4C555.38,453.03 556.22,454.82 557.5,457.5C558.78,460.18 560.02,462.83 561.8,466.5C563.58,470.17 566.03,475.38 568.2,479.5C570.37,483.62 572.63,487.62 574.8,491.2C576.97,494.78 579.1,498.12 581.2,501C583.3,503.88 585.43,506.58 587.4,508.5C589.37,510.42 591.07,511.28 593,512.5C594.93,513.72 596.98,514.8 599,515.8C601.02,516.8 602.17,517.62 605.1,518.5C608.03,519.38 613.38,520.58 616.6,521.1C619.82,521.62 621.33,521.45 624.4,521.6C627.47,521.75 633.23,521.93 635,522" stroke="#0000ff" stroke-width="1.3" fill="none" stroke-dasharray="4.2 2"/>
<path d="M440,522C441.48,521.92 446.4,521.7 448.9,521.5C451.4,521.3 453.13,521.13 455,520.8C456.87,520.47 458.43,520 460.1,519.5C461.77,519 463.38,518.47 465,517.8C466.62,517.13 468.3,516.47 469.8,515.5C471.3,514.53 472.67,513.35 474,512C475.33,510.65 476.63,508.9 477.8,507.4C478.97,505.9 479.93,504.6 481,503C482.07,501.4 483.25,499.63 484.2,497.8C485.15,495.97 485.88,493.87 486.7,492C487.52,490.13 488.3,488.68 489.1,486.6C489.9,484.52 490.7,481.92 491.5,479.5C492.3,477.08 493.1,474.68 493.9,472.1C494.7,469.52 495.5,466.67 496.3,464C497.1,461.33 497.92,458.77 498.7,456.1C499.48,453.43 500.23,450.68 501,448C501.77,445.32 502.63,442.25 503.3,440C503.97,437.75 504.42,436.2 505,434.5C505.58,432.8 506.2,431.48 506.8,429.8C507.4,428.12 507.92,426.37 508.6,424.4C509.28,422.43 510.15,419.97 510.9,418C511.65,416.03 512.43,414.25 513.1,412.6C513.77,410.95 514.3,409.45 514.9,408.1C515.5,406.75 516.08,405.72 516.7,404.5C517.32,403.28 517.98,402.02 518.6,400.8C519.22,399.58 519.73,398.4 520.4,397.2C521.07,396 521.7,394.73 522.6,393.6C523.5,392.47 524.58,391.15 525.8,390.4C527.02,389.65 528.53,389.17 529.9,389.1C531.27,389.03 532.72,389.4 534,390C535.28,390.6 536.4,391.65 537.6,392.7C538.8,393.75 540.07,394.95 541.2,396.3C542.33,397.65 542.97,398.67 544.4,400.8C545.83,402.93 548.1,405.85 549.8,409.1C551.5,412.35 553.15,416.82 554.6,420.3C556.05,423.78 557.27,426.72 558.5,430C559.73,433.28 560.7,436.5 562,440C563.3,443.5 564.88,447.92 566.3,451C567.72,454.08 569.38,456.58 570.5,458.5C571.62,460.42 571.52,460.5 573,462.5C574.48,464.5 577.27,467.83 579.4,470.5C581.53,473.17 583.75,475.68 585.8,478.5C587.85,481.32 589.5,484.6 591.7,487.4C593.9,490.2 596.6,492.87 599,495.3C601.4,497.73 604.02,499.98 606.1,502C608.18,504.02 610,505.9 611.5,507.4C613,508.9 614.02,509.98 615.1,511C616.18,512.02 616.6,512.25 618,513.5C619.4,514.75 621.42,517.23 623.5,518.5C625.58,519.77 627.75,520.52 630.5,521.1C633.25,521.68 638.42,521.85 640,522" stroke="#ff0000" stroke-width="1.3" fill="none" stroke-dasharray="7 1.8 1.2 1.8"/>
<path d="M445,522C446.67,521.95 452.2,521.85 455,521.7C457.8,521.55 459.88,521.38 461.8,521.1C463.72,520.82 464.9,520.47 466.5,520C468.1,519.53 469.9,519.13 471.4,518.3C472.9,517.47 474.17,516.3 475.5,515C476.83,513.7 478.18,512.17 479.4,510.5C480.62,508.83 481.73,506.85 482.8,505C483.87,503.15 484.88,501.4 485.8,499.4C486.72,497.4 487.48,495.13 488.3,493C489.12,490.87 489.9,488.85 490.7,486.6C491.5,484.35 492.3,481.92 493.1,479.5C493.9,477.08 494.7,474.68 495.5,472.1C496.3,469.52 497.1,466.67 497.9,464C498.7,461.33 499.53,458.68 500.3,456.1C501.07,453.52 501.8,451.02 502.5,448.5C503.2,445.98 503.72,444.18 504.5,441C505.28,437.82 506.45,432.47 507.2,429.4C507.95,426.33 508.38,424.8 509,422.6C509.62,420.4 510.22,418.17 510.9,416.2C511.58,414.23 512.28,412.45 513.1,410.8C513.92,409.15 514.88,407.67 515.8,406.3C516.72,404.93 517.68,403.67 518.6,402.6C519.52,401.53 520.33,400.57 521.3,399.9C522.27,399.23 523.35,398.67 524.4,398.6C525.45,398.53 526.47,398.67 527.6,399.5C528.73,400.33 530.15,402.32 531.2,403.6C532.25,404.88 532.83,405.55 533.9,407.2C534.97,408.85 536.5,411.45 537.6,413.5C538.7,415.55 539.55,417.33 540.5,419.5C541.45,421.67 542.3,423.92 543.3,426.5C544.3,429.08 545.47,432.58 546.5,435C547.53,437.42 548.58,439.17 549.5,441C550.42,442.83 551.03,444.5 552,446C552.97,447.5 554.03,448.58 555.3,450C556.57,451.42 558.32,453.33 559.6,454.5C560.88,455.67 561.77,456.28 563,457C564.23,457.72 565.67,458.37 567,458.8C568.33,459.23 569.67,459.38 571,459.6C572.33,459.82 573.83,460 575,460.1C576.17,460.2 576.93,460.02 578,460.2C579.07,460.38 580.32,460.73 581.4,461.2C582.48,461.67 583.43,462.28 584.5,463C585.57,463.72 586.77,464.7 587.8,465.5C588.83,466.3 589.62,466.7 590.7,467.8C591.78,468.9 593.17,470.9 594.3,472.1C595.43,473.3 596.43,473.93 597.5,475C598.57,476.07 599.62,477.3 600.7,478.5C601.78,479.7 602.93,481.03 604,482.2C605.07,483.37 605.93,484.28 607.1,485.5C608.27,486.72 609.67,488.2 611,489.5C612.33,490.8 613.77,492.05 615.1,493.3C616.43,494.55 617.65,495.72 619,497C620.35,498.28 621.87,499.75 623.2,501C624.53,502.25 625.67,503.42 627,504.5C628.33,505.58 629.87,506.5 631.2,507.5C632.53,508.5 633.67,509.45 635,510.5C636.33,511.55 637.87,512.8 639.2,513.8C640.53,514.8 641.65,515.68 643,516.5C644.35,517.32 645.97,518.12 647.3,518.7C648.63,519.28 649.67,519.65 651,520C652.33,520.35 653.63,520.57 655.3,520.8C656.97,521.03 659.22,521.25 661,521.4C662.78,521.55 664.33,521.58 666,521.7C667.67,521.82 670.17,522.03 671,522.1" stroke="#008000" stroke-width="1.6" fill="none"/>
<path d="M505,522C506.15,521.93 510.08,521.8 511.9,521.6C513.72,521.4 514.65,521.43 515.9,520.8C517.15,520.17 518.4,519.13 519.4,517.8C520.4,516.47 521.15,514.62 521.9,512.8C522.65,510.98 523.32,509.05 523.9,506.9C524.48,504.75 524.9,502.73 525.4,499.9C525.9,497.07 526.48,492.88 526.9,489.9C527.32,486.92 527.57,484.82 527.9,482C528.23,479.18 528.42,477.9 528.9,473C529.38,468.1 530.22,458.72 530.8,452.6C531.38,446.48 531.92,441.73 532.4,436.3C532.88,430.87 533.22,425.88 533.7,420C534.18,414.12 534.77,407.65 535.3,401C535.83,394.35 536.42,386.93 536.9,380.1C537.38,373.27 537.8,366.45 538.2,360C538.6,353.55 538.85,347.18 539.3,341.4C539.75,335.62 540.32,330.65 540.9,325.3C541.48,319.95 542.07,313.85 542.8,309.3C543.53,304.75 544.43,300.42 545.3,298C546.17,295.58 547.07,294.8 548,294.8C548.93,294.8 549.88,295.58 550.9,298C551.92,300.42 552.9,304.75 554.1,309.3C555.3,313.85 556.88,320.18 558.1,325.3C559.32,330.42 560.33,334.8 561.4,340C562.47,345.2 563.35,351.17 564.5,356.5C565.65,361.83 566.88,366.33 568.3,372C569.72,377.67 571.55,384.75 573,390.5C574.45,396.25 575.67,400.92 577,406.5C578.33,412.08 579.78,418.42 581,424C582.22,429.58 583.17,434.58 584.3,440C585.43,445.42 586.68,451.15 587.8,456.5C588.92,461.85 589.68,467.22 591,472.1C592.32,476.98 593.85,481.92 595.7,485.8C597.55,489.68 599.7,492.33 602.1,495.4C604.5,498.47 607.62,501.6 610.1,504.2C612.58,506.8 614.77,508.78 617,511C619.23,513.22 621.37,515.92 623.5,517.5C625.63,519.08 627.72,519.82 629.8,520.5C631.88,521.18 633.47,521.35 636,521.6C638.53,521.85 643.5,521.93 645,522" stroke="#bfbf00" stroke-width="1.1" fill="none"/>
<path d="M512,522C512.67,521.97 514.68,521.92 516,521.8C517.32,521.68 518.42,521.63 519.9,521.3C521.38,520.97 523.4,520.72 524.9,519.8C526.4,518.88 527.9,517.38 528.9,515.8C529.9,514.22 530.32,512.12 530.9,510.3C531.48,508.48 532,506.8 532.4,504.9C532.8,503 532.98,500.87 533.3,498.9C533.62,496.93 533.97,495.02 534.3,493.1C534.63,491.18 535.02,489.33 535.3,487.4C535.58,485.47 535.75,483.48 536,481.5C536.25,479.52 536.55,477.75 536.8,475.5C537.05,473.25 537.25,470.58 537.5,468C537.75,465.42 538.07,462.65 538.3,460C538.53,457.35 538.68,454.42 538.9,452.1C539.12,449.78 539.4,448.62 539.6,446.1C539.8,443.58 539.93,440.02 540.1,437C540.27,433.98 540.4,431.17 540.6,428C540.8,424.83 541.05,420.88 541.3,418C541.55,415.12 541.82,413.7 542.1,410.7C542.38,407.7 542.73,402.95 543,400C543.27,397.05 543.45,396 543.7,393C543.95,390 544.28,385 544.5,382C544.72,379 544.82,377.22 545,375C545.18,372.78 545.42,370.77 545.6,368.7C545.78,366.63 545.95,364.63 546.1,362.6C546.25,360.57 546.35,358.6 546.5,356.5C546.65,354.4 546.83,352.08 547,350C547.17,347.92 547.33,345.83 547.5,344C547.67,342.17 547.75,340.77 548,339C548.25,337.23 548.65,335.35 549,333.4C549.35,331.45 549.68,329.12 550.1,327.3C550.52,325.48 550.93,323.58 551.5,322.5C552.07,321.42 552.8,320.8 553.5,320.8C554.2,320.8 554.87,321.47 555.7,322.5C556.53,323.53 557.7,326.17 558.5,327C559.3,327.83 559.87,327.92 560.5,327.5C561.13,327.08 561.72,325.93 562.3,324.5C562.88,323.07 563.43,320.77 564,318.9C564.57,317.03 565.15,315.03 565.7,313.3C566.25,311.57 566.78,309.55 567.3,308.5C567.82,307.45 568.27,307.17 568.8,307C569.33,306.83 570,307 570.5,307.5C571,308 571.42,308.75 571.8,310C572.18,311.25 572.48,313.25 572.8,315C573.12,316.75 573.43,318.57 573.7,320.5C573.97,322.43 574.18,324.58 574.4,326.6C574.62,328.62 574.77,330.67 575,332.6C575.23,334.53 575.57,336.25 575.8,338.2C576.03,340.15 576.2,342.3 576.4,344.3C576.6,346.3 576.78,348.28 577,350.2C577.22,352.12 577.45,353.85 577.7,355.8C577.95,357.75 578.27,359.88 578.5,361.9C578.73,363.92 578.9,365.97 579.1,367.9C579.3,369.83 579.45,370.47 579.7,373.5C579.95,376.53 580.27,382.13 580.6,386.1C580.93,390.07 581.2,393.73 581.7,397.3C582.2,400.87 582.83,403.8 583.6,407.5C584.37,411.2 585.28,415.58 586.3,419.5C587.32,423.42 588.52,427.08 589.7,431C590.88,434.92 592.35,439 593.4,443C594.45,447 595.23,451.33 596,455C596.77,458.67 597.3,461.58 598,465C598.7,468.42 599.45,471.92 600.2,475.5C600.95,479.08 601.67,483.08 602.5,486.5C603.33,489.92 604.37,493.42 605.2,496C606.03,498.58 606.62,499.92 607.5,502C608.38,504.08 609.33,506.75 610.5,508.5C611.67,510.25 613.17,511.5 614.5,512.5C615.83,513.5 617,514.28 618.5,514.5C620,514.72 621.92,514.03 623.5,513.8C625.08,513.57 626.45,513.2 628,513.1C629.55,513 631.2,512.8 632.8,513.2C634.4,513.6 636,514.58 637.6,515.5C639.2,516.42 640.52,517.77 642.4,518.7C644.28,519.63 646.8,520.55 648.9,521.1C651,521.65 653.98,521.85 655,522" stroke="#bf00bf" stroke-width="2.2" fill="none" stroke-dasharray="2.2 3.7"/>
</g>
<rect x="37.6" y="3.2" width="277.4" height="241.15" fill="none" stroke="#262626" stroke-width="1.25"/>
<line x1="57.9" y1="244.35" x2="57.9" y2="247.55" stroke="#262626" stroke-width="1"/>
<line x1="91.9" y1="244.35" x2="91.9" y2="247.55" stroke="#262626" stroke-width="1"/>
<line x1="125.9" y1="244.35" x2="125.9" y2="247.55" stroke="#262626" stroke-width="1"/>
<line x1="159.9" y1="244.35" x2="159.9" y2="247.55" stroke="#262626" stroke-width="1"/>
<line x1="193.9" y1="244.35" x2="193.9" y2="247.55" stroke="#262626" stroke-width="1"/>
<line x1="227.9" y1="244.35" x2="227.9" y2="247.55" stroke="#262626" stroke-width="1"/>
<line x1="261.9" y1="244.35" x2="261.9" y2="247.55" stroke="#262626" stroke-width="1"/>
<line x1="295.9" y1="244.35" x2="295.9" y2="247.55" stroke="#262626" stroke-width="1"/>
<line x1="34.4" y1="244.3" x2="37.6" y2="244.3" stroke="#262626" stroke-width="1"/>
<line x1="34.4" y1="216.1" x2="37.6" y2="216.1" stroke="#262626" stroke-width="1"/>
<line x1="34.4" y1="187.9" x2="37.6" y2="187.9" stroke="#262626" stroke-width="1"/>
<line x1="34.4" y1="159.7" x2="37.6" y2="159.7" stroke="#262626" stroke-width="1"/>
<line x1="34.4" y1="131.5" x2="37.6" y2="131.5" stroke="#262626" stroke-width="1"/>
<line x1="34.4" y1="103.3" x2="37.6" y2="103.3" stroke="#262626" stroke-width="1"/>
<line x1="34.4" y1="75.1" x2="37.6" y2="75.1" stroke="#262626" stroke-width="1"/>
<line x1="34.4" y1="46.9" x2="37.6" y2="46.9" stroke="#262626" stroke-width="1"/>
<line x1="34.4" y1="18.7" x2="37.6" y2="18.7" stroke="#262626" stroke-width="1"/>
<text transform="translate(57.9,257.8) scale(0.92,1)" font-family="'Liberation Sans', sans-serif" font-size="10" text-anchor="middle" fill="#262626" stroke="#262626" stroke-width="0.25">−6</text>
<text transform="translate(91.9,257.8) scale(0.92,1)" font-family="'Liberation Sans', sans-serif" font-size="10" text-anchor="middle" fill="#262626" stroke="#262626" stroke-width="0.25">−4</text>
<text transform="translate(125.9,257.8) scale(0.92,1)" font-family="'Liberation Sans', sans-serif" font-size="10" text-anchor="middle" fill="#262626" stroke="#262626" stroke-width="0.25">−2</text>
<text transform="translate(159.9,257.8) scale(0.92,1)" font-family="'Liberation Sans', sans-serif" font-size="10" text-anchor="middle" fill="#262626" stroke="#262626" stroke-width="0.25">0</text>
<text transform="translate(193.9,257.8) scale(0.92,1)" font-family="'Liberation Sans', sans-serif" font-size="10" text-anchor="middle" fill="#262626" stroke="#262626" stroke-width="0.25">2</text>
<text transform="translate(227.9,257.8) scale(0.92,1)" font-family="'Liberation Sans', sans-serif" font-size="10" text-anchor="middle" fill="#262626" stroke="#262626" stroke-width="0.25">4</text>
<text transform="translate(261.9,257.8) scale(0.92,1)" font-family="'Liberation Sans', sans-serif" font-size="10" text-anchor="middle" fill="#262626" stroke="#262626" stroke-width="0.25">6</text>
<text transform="translate(295.9,257.8) scale(0.92,1)" font-family="'Liberation Sans', sans-serif" font-size="10" text-anchor="middle" fill="#262626" stroke="#262626" stroke-width="0.25">8</text>
<text transform="translate(32.2,248.1) scale(0.92,1)" font-family="'Liberation Sans', sans-serif" font-size="10" text-anchor="end" fill="#262626" stroke="#262626" stroke-width="0.25">0.00</text>
<text transform="translate(32.2,219.9) scale(0.92,1)" font-family="'Liberation Sans', sans-serif" font-size="10" text-anchor="end" fill="#262626" stroke="#262626" stroke-width="0.25">0.05</text>
<text transform="translate(32.2,191.7) scale(0.92,1)" font-family="'Liberation Sans', sans-serif" font-size="10" text-anchor="end" fill="#262626" stroke="#262626" stroke-width="0.25">0.10</text>
<text transform="translate(32.2,163.5) scale(0.92,1)" font-family="'Liberation Sans', sans-serif" font-size="10" text-anchor="end" fill="#262626" stroke="#262626" stroke-width="0.25">0.15</text>
<text transform="translate(32.2,135.3) scale(0.92,1)" font-family="'Liberation Sans', sans-serif" font-size="10" text-anchor="end" fill="#262626" stroke="#262626" stroke-width="0.25">0.20</text>
<text transform="translate(32.2,107.1) scale(0.92,1)" font-family="'Liberation Sans', sans-serif" font-size="10" text-anchor="end" fill="#262626" stroke="#262626" stroke-width="0.25">0.25</text>
<text transform="translate(32.2,78.9) scale(0.92,1)" font-family="'Liberation Sans', sans-serif" font-size="10" text-anchor="end" fill="#262626" stroke="#262626" stroke-width="0.25">0.30</text>
<text transform="translate(32.2,50.7) scale(0.92,1)" font-family="'Liberation Sans', sans-serif" font-size="10" text-anchor="end" fill="#262626" stroke="#262626" stroke-width="0.25">0.35</text>
<text transform="translate(32.2,22.5) scale(0.92,1)" font-family="'Liberation Sans', sans-serif" font-size="10" text-anchor="end" fill="#262626" stroke="#262626" stroke-width="0.25">0.40</text>
<rect x="397.6" y="2.6" width="283" height="241.6" fill="none" stroke="#262626" stroke-width="1.25"/>
<line x1="413.41" y1="244.2" x2="413.41" y2="247.4" stroke="#262626" stroke-width="1"/>
<line x1="446.63" y1="244.2" x2="446.63" y2="247.4" stroke="#262626" stroke-width="1"/>
<line x1="479.85" y1="244.2" x2="479.85" y2="247.4" stroke="#262626" stroke-width="1"/>
<line x1="513.07" y1="244.2" x2="513.07" y2="247.4" stroke="#262626" stroke-width="1"/>
<line x1="546.29" y1="244.2" x2="546.29" y2="247.4" stroke="#262626" stroke-width="1"/>
<line x1="579.51" y1="244.2" x2="579.51" y2="247.4" stroke="#262626" stroke-width="1"/>
<line x1="612.73" y1="244.2" x2="612.73" y2="247.4" stroke="#262626" stroke-width="1"/>
<line x1="645.95" y1="244.2" x2="645.95" y2="247.4" stroke="#262626" stroke-width="1"/>
<line x1="679.17" y1="244.2" x2="679.17" y2="247.4" stroke="#262626" stroke-width="1"/>
<line x1="394.4" y1="244.2" x2="397.6" y2="244.2" stroke="#262626" stroke-width="1"/>
<line x1="394.4" y1="199.86" x2="397.6" y2="199.86" stroke="#262626" stroke-width="1"/>
<line x1="394.4" y1="155.52" x2="397.6" y2="155.52" stroke="#262626" stroke-width="1"/>
<line x1="394.4" y1="111.18" x2="397.6" y2="111.18" stroke="#262626" stroke-width="1"/>
<line x1="394.4" y1="66.84" x2="397.6" y2="66.84" stroke="#262626" stroke-width="1"/>
<line x1="394.4" y1="22.5" x2="397.6" y2="22.5" stroke="#262626" stroke-width="1"/>
<text transform="translate(413.41,257.9) scale(0.92,1)" font-family="'Liberation Sans', sans-serif" font-size="10" text-anchor="middle" fill="#262626" stroke="#262626" stroke-width="0.25">−4</text>
<text transform="translate(446.63,257.9) scale(0.92,1)" font-family="'Liberation Sans', sans-serif" font-size="10" text-anchor="middle" fill="#262626" stroke="#262626" stroke-width="0.25">−2</text>
<text transform="translate(479.85,257.9) scale(0.92,1)" font-family="'Liberation Sans', sans-serif" font-size="10" text-anchor="middle" fill="#262626" stroke="#262626" stroke-width="0.25">0</text>
<text transform="translate(513.07,257.9) scale(0.92,1)" font-family="'Liberation Sans', sans-serif" font-size="10" text-anchor="middle" fill="#262626" stroke="#262626" stroke-width="0.25">2</text>
<text transform="translate(546.29,257.9) scale(0.92,1)" font-family="'Liberation Sans', sans-serif" font-size="10" text-anchor="middle" fill="#262626" stroke="#262626" stroke-width="0.25">4</text>
<text transform="translate(579.51,257.9) scale(0.92,1)" font-family="'Liberation Sans', sans-serif" font-size="10" text-anchor="middle" fill="#262626" stroke="#262626" stroke-width="0.25">6</text>
<text transform="translate(612.73,257.9) scale(0.92,1)" font-family="'Liberation Sans', sans-serif" font-size="10" text-anchor="middle" fill="#262626" stroke="#262626" stroke-width="0.25">8</text>
<text transform="translate(645.95,257.9) scale(0.92,1)" font-family="'Liberation Sans', sans-serif" font-size="10" text-anchor="middle" fill="#262626" stroke="#262626" stroke-width="0.25">10</text>
<text transform="translate(679.17,257.9) scale(0.92,1)" font-family="'Liberation Sans', sans-serif" font-size="10" text-anchor="middle" fill="#262626" stroke="#262626" stroke-width="0.25">12</text>
<text transform="translate(391.9,248) scale(0.92,1)" font-family="'Liberation Sans', sans-serif" font-size="10" text-anchor="end" fill="#262626" stroke="#262626" stroke-width="0.25">0.0</text>
<text transform="translate(391.9,203.66) scale(0.92,1)" font-family="'Liberation Sans', sans-serif" font-size="10" text-anchor="end" fill="#262626" stroke="#262626" stroke-width="0.25">0.2</text>
<text transform="translate(391.9,159.32) scale(0.92,1)" font-family="'Liberation Sans', sans-serif" font-size="10" text-anchor="end" fill="#262626" stroke="#262626" stroke-width="0.25">0.4</text>
<text transform="translate(391.9,114.98) scale(0.92,1)" font-family="'Liberation Sans', sans-serif" font-size="10" text-anchor="end" fill="#262626" stroke="#262626" stroke-width="0.25">0.6</text>
<text transform="translate(391.9,70.64) scale(0.92,1)" font-family="'Liberation Sans', sans-serif" font-size="10" text-anchor="end" fill="#262626" stroke="#262626" stroke-width="0.25">0.8</text>
<text transform="translate(391.9,26.3) scale(0.92,1)" font-family="'Liberation Sans', sans-serif" font-size="10" text-anchor="end" fill="#262626" stroke="#262626" stroke-width="0.25">1.0</text>
<rect x="32" y="283.4" width="285.2" height="237.8" fill="none" stroke="#262626" stroke-width="1.25"/>
<line x1="57.3" y1="521.2" x2="57.3" y2="524.4" stroke="#262626" stroke-width="1"/>
<line x1="96.46" y1="521.2" x2="96.46" y2="524.4" stroke="#262626" stroke-width="1"/>
<line x1="135.62" y1="521.2" x2="135.62" y2="524.4" stroke="#262626" stroke-width="1"/>
<line x1="174.78" y1="521.2" x2="174.78" y2="524.4" stroke="#262626" stroke-width="1"/>
<line x1="213.94" y1="521.2" x2="213.94" y2="524.4" stroke="#262626" stroke-width="1"/>
<line x1="253.1" y1="521.2" x2="253.1" y2="524.4" stroke="#262626" stroke-width="1"/>
<line x1="292.26" y1="521.2" x2="292.26" y2="524.4" stroke="#262626" stroke-width="1"/>
<line x1="28.8" y1="521.2" x2="32" y2="521.2" stroke="#262626" stroke-width="1"/>
<line x1="28.8" y1="475.7" x2="32" y2="475.7" stroke="#262626" stroke-width="1"/>
<line x1="28.8" y1="430.2" x2="32" y2="430.2" stroke="#262626" stroke-width="1"/>
<line x1="28.8" y1="384.7" x2="32" y2="384.7" stroke="#262626" stroke-width="1"/>
<line x1="28.8" y1="339.2" x2="32" y2="339.2" stroke="#262626" stroke-width="1"/>
<line x1="28.8" y1="293.7" x2="32" y2="293.7" stroke="#262626" stroke-width="1"/>
<text transform="translate(57.3,535) scale(0.92,1)" font-family="'Liberation Sans', sans-serif" font-size="10" text-anchor="middle" fill="#262626" stroke="#262626" stroke-width="0.25">36</text>
<text transform="translate(96.46,535) scale(0.92,1)" font-family="'Liberation Sans', sans-serif" font-size="10" text-anchor="middle" fill="#262626" stroke="#262626" stroke-width="0.25">38</text>
<text transform="translate(135.62,535) scale(0.92,1)" font-family="'Liberation Sans', sans-serif" font-size="10" text-anchor="middle" fill="#262626" stroke="#262626" stroke-width="0.25">40</text>
<text transform="translate(174.78,535) scale(0.92,1)" font-family="'Liberation Sans', sans-serif" font-size="10" text-anchor="middle" fill="#262626" stroke="#262626" stroke-width="0.25">42</text>
<text transform="translate(213.94,535) scale(0.92,1)" font-family="'Liberation Sans', sans-serif" font-size="10" text-anchor="middle" fill="#262626" stroke="#262626" stroke-width="0.25">44</text>
<text transform="translate(253.1,535) scale(0.92,1)" font-family="'Liberation Sans', sans-serif" font-size="10" text-anchor="middle" fill="#262626" stroke="#262626" stroke-width="0.25">46</text>
<text transform="translate(292.26,535) scale(0.92,1)" font-family="'Liberation Sans', sans-serif" font-size="10" text-anchor="middle" fill="#262626" stroke="#262626" stroke-width="0.25">48</text>
<text transform="translate(26.2,525) scale(0.92,1)" font-family="'Liberation Sans', sans-serif" font-size="10" text-anchor="end" fill="#262626" stroke="#262626" stroke-width="0.25">0.0</text>
<text transform="translate(26.2,479.5) scale(0.92,1)" font-family="'Liberation Sans', sans-serif" font-size="10" text-anchor="end" fill="#262626" stroke="#262626" stroke-width="0.25">0.1</text>
<text transform="translate(26.2,434) scale(0.92,1)" font-family="'Liberation Sans', sans-serif" font-size="10" text-anchor="end" fill="#262626" stroke="#262626" stroke-width="0.25">0.2</text>
<text transform="translate(26.2,388.5) scale(0.92,1)" font-family="'Liberation Sans', sans-serif" font-size="10" text-anchor="end" fill="#262626" stroke="#262626" stroke-width="0.25">0.3</text>
<text transform="translate(26.2,343) scale(0.92,1)" font-family="'Liberation Sans', sans-serif" font-size="10" text-anchor="end" fill="#262626" stroke="#262626" stroke-width="0.25">0.4</text>
<text transform="translate(26.2,297.5) scale(0.92,1)" font-family="'Liberation Sans', sans-serif" font-size="10" text-anchor="end" fill="#262626" stroke="#262626" stroke-width="0.25">0.5</text>
<rect x="400.3" y="283.5" width="282.8" height="238.6" fill="none" stroke="#262626" stroke-width="1.25"/>
<line x1="435" y1="522.1" x2="435" y2="525.3" stroke="#262626" stroke-width="1"/>
<line x1="474.24" y1="522.1" x2="474.24" y2="525.3" stroke="#262626" stroke-width="1"/>
<line x1="513.48" y1="522.1" x2="513.48" y2="525.3" stroke="#262626" stroke-width="1"/>
<line x1="552.72" y1="522.1" x2="552.72" y2="525.3" stroke="#262626" stroke-width="1"/>
<line x1="591.96" y1="522.1" x2="591.96" y2="525.3" stroke="#262626" stroke-width="1"/>
<line x1="631.2" y1="522.1" x2="631.2" y2="525.3" stroke="#262626" stroke-width="1"/>
<line x1="670.44" y1="522.1" x2="670.44" y2="525.3" stroke="#262626" stroke-width="1"/>
<line x1="397.1" y1="522" x2="400.3" y2="522" stroke="#262626" stroke-width="1"/>
<line x1="397.1" y1="470.25" x2="400.3" y2="470.25" stroke="#262626" stroke-width="1"/>
<line x1="397.1" y1="418.5" x2="400.3" y2="418.5" stroke="#262626" stroke-width="1"/>
<line x1="397.1" y1="366.75" x2="400.3" y2="366.75" stroke="#262626" stroke-width="1"/>
<line x1="397.1" y1="315" x2="400.3" y2="315" stroke="#262626" stroke-width="1"/>
<text transform="translate(435,535.6) scale(0.92,1)" font-family="'Liberation Sans', sans-serif" font-size="10" text-anchor="middle" fill="#262626" stroke="#262626" stroke-width="0.25">36</text>
<text transform="translate(474.24,535.6) scale(0.92,1)" font-family="'Liberation Sans', sans-serif" font-size="10" text-anchor="middle" fill="#262626" stroke="#262626" stroke-width="0.25">38</text>
<text transform="translate(513.48,535.6) scale(0.92,1)" font-family="'Liberation Sans', sans-serif" font-size="10" text-anchor="middle" fill="#262626" stroke="#262626" stroke-width="0.25">40</text>
<text transform="translate(552.72,535.6) scale(0.92,1)" font-family="'Liberation Sans', sans-serif" font-size="10" text-anchor="middle" fill="#262626" stroke="#262626" stroke-width="0.25">42</text>
<text transform="translate(591.96,535.6) scale(0.92,1)" font-family="'Liberation Sans', sans-serif" font-size="10" text-anchor="middle" fill="#262626" stroke="#262626" stroke-width="0.25">44</text>
<text transform="translate(631.2,535.6) scale(0.92,1)" font-family="'Liberation Sans', sans-serif" font-size="10" text-anchor="middle" fill="#262626" stroke="#262626" stroke-width="0.25">46</text>
<text transform="translate(670.44,535.6) scale(0.92,1)" font-family="'Liberation Sans', sans-serif" font-size="10" text-anchor="middle" fill="#262626" stroke="#262626" stroke-width="0.25">48</text>
<text transform="translate(394.3,525.8) scale(0.92,1)" font-family="'Liberation Sans', sans-serif" font-size="10" text-anchor="end" fill="#262626" stroke="#262626" stroke-width="0.25">0.0</text>
<text transform="translate(394.3,474.05) scale(0.92,1)" font-family="'Liberation Sans', sans-serif" font-size="10" text-anchor="end" fill="#262626" stroke="#262626" stroke-width="0.25">0.1</text>
<text transform="translate(394.3,422.3) scale(0.92,1)" font-family="'Liberation Sans', sans-serif" font-size="10" text-anchor="end" fill="#262626" stroke="#262626" stroke-width="0.25">0.2</text>
<text transform="translate(394.3,370.55) scale(0.92,1)" font-family="'Liberation Sans', sans-serif" font-size="10" text-anchor="end" fill="#262626" stroke="#262626" stroke-width="0.25">0.3</text>
<text transform="translate(394.3,318.8) scale(0.92,1)" font-family="'Liberation Sans', sans-serif" font-size="10" text-anchor="end" fill="#262626" stroke="#262626" stroke-width="0.25">0.4</text>
<text transform="translate(111,271.7) scale(0.999,1)" font-family="'Liberation Sans', sans-serif" font-size="10.4" font-weight="bold" textLength="131" lengthAdjust="spacingAndGlyphs" fill="#000">log (X-ray core-dominance)</text>
<text transform="translate(469.6,271.3) scale(0.999,1)" font-family="'Liberation Sans', sans-serif" font-size="10.4" font-weight="bold" textLength="22.4" lengthAdjust="spacingAndGlyphs" fill="#000">log (</text>
<text transform="translate(492.6,271.3) scale(0.999,1)" font-family="'Liberation Sans', sans-serif" font-size="10.4" font-style="italic" fill="#000">γ</text>
<text transform="translate(499.2,271.3) scale(0.999,1)" font-family="'Liberation Sans', sans-serif" font-size="10.4" font-weight="bold" fill="#000">−</text>
<text transform="translate(508,271.3) scale(0.999,1)" font-family="'Liberation Sans', sans-serif" font-size="10.4" font-style="italic" textLength="14" lengthAdjust="spacingAndGlyphs" fill="#000">ray</text>
<text transform="translate(524.6,271.3) scale(0.999,1)" font-family="'Liberation Sans', sans-serif" font-size="10.4" font-weight="bold" textLength="83" lengthAdjust="spacingAndGlyphs" fill="#000">core dominance)</text>
<text transform="translate(95,547.3) scale(0.999,1)" font-family="'Liberation Sans', sans-serif" font-size="10.4" font-weight="bold" textLength="74.6" lengthAdjust="spacingAndGlyphs" fill="#000">log (unbeamed</text>
<text transform="translate(173.2,547.3) scale(0.999,1)" font-family="'Liberation Sans', sans-serif" font-size="10.4" font-style="italic" fill="#000">γ</text>
<text transform="translate(179.2,547.3) scale(0.999,1)" font-family="'Liberation Sans', sans-serif" font-size="10.4" font-weight="bold" fill="#000">−</text>
<text transform="translate(188.9,547.3) scale(0.999,1)" font-family="'Liberation Sans', sans-serif" font-size="10.4" font-style="italic" textLength="13.6" lengthAdjust="spacingAndGlyphs" fill="#000">ray</text>
<text transform="translate(206,547.3) scale(0.999,1)" font-family="'Liberation Sans', sans-serif" font-size="10.4" font-weight="bold" textLength="47.4" lengthAdjust="spacingAndGlyphs" fill="#000">emission)</text>
<text transform="translate(468.5,548.3) scale(0.999,1)" font-family="'Liberation Sans', sans-serif" font-size="10.4" font-weight="bold" textLength="61.9" lengthAdjust="spacingAndGlyphs" fill="#000">log (beamed</text>
<text transform="translate(533.4,548.3) scale(0.999,1)" font-family="'Liberation Sans', sans-serif" font-size="10.4" font-style="italic" fill="#000">γ</text>
<text transform="translate(540.6,548.3) scale(0.999,1)" font-family="'Liberation Sans', sans-serif" font-size="10.4" font-weight="bold" fill="#000">−</text>
<text transform="translate(549.4,548.3) scale(0.999,1)" font-family="'Liberation Sans', sans-serif" font-size="10.4" font-style="italic" textLength="14" lengthAdjust="spacingAndGlyphs" fill="#000">ray</text>
<text transform="translate(566.6,548.3) scale(0.999,1)" font-family="'Liberation Sans', sans-serif" font-size="10.4" font-weight="bold" textLength="47" lengthAdjust="spacingAndGlyphs" fill="#000">emission)</text>
<text transform="translate(10.9,177.4) rotate(-90)" font-family="'Liberation Sans', sans-serif" font-size="10.4" font-weight="bold" textLength="108.2" lengthAdjust="spacingAndGlyphs" fill="#000">Probability Density</text>
<text transform="translate(375,177.6) rotate(-90)" font-family="'Liberation Sans', sans-serif" font-size="10.4" font-weight="bold" textLength="108.6" lengthAdjust="spacingAndGlyphs" fill="#000">Probability Density</text>
<text transform="translate(8.8,455.2) rotate(-90)" font-family="'Liberation Sans', sans-serif" font-size="10.4" font-weight="bold" textLength="106.4" lengthAdjust="spacingAndGlyphs" fill="#000">Probability Density</text>
<text transform="translate(378,455.8) rotate(-90)" font-family="'Liberation Sans', sans-serif" font-size="10.4" font-weight="bold" textLength="106.4" lengthAdjust="spacingAndGlyphs" fill="#000">Probability Density</text>
<text transform="translate(272.7,315.8) scale(0.999,1)" font-family="'Liberation Sans', sans-serif" font-size="10.8" font-weight="bold" textLength="14" lengthAdjust="spacingAndGlyphs" fill="#000">(c)</text>
<text transform="translate(441.7,365.8) scale(0.999,1)" font-family="'Liberation Sans', sans-serif" font-size="10.8" font-weight="bold" textLength="14.4" lengthAdjust="spacingAndGlyphs" fill="#000">(d)</text>
<line x1="204.8" y1="15" x2="221.7" y2="15" stroke="#000000" stroke-width="1.6" fill="none"/>
<text transform="translate(227.1,18.4) scale(0.999,1)" font-family="'Liberation Sans', sans-serif" font-size="9.8" textLength="25.5" lengthAdjust="spacingAndGlyphs" fill="#1a1a1a" stroke="#1a1a1a" stroke-width="0.25">FSRQs</text>
<line x1="204.8" y1="28.3" x2="221.7" y2="28.3" stroke="#0000ff" stroke-width="1.6" fill="none" stroke-dasharray="4.4 2"/>
<text transform="translate(227.1,31.7) scale(0.999,1)" font-family="'Liberation Sans', sans-serif" font-size="9.8" textLength="20" lengthAdjust="spacingAndGlyphs" fill="#1a1a1a" stroke="#1a1a1a" stroke-width="0.25">HBLs</text>
<line x1="204.8" y1="41.6" x2="221.7" y2="41.6" stroke="#ff0000" stroke-width="1.6" fill="none" stroke-dasharray="7.4 2.2 1.1 2.2"/>
<text transform="translate(227.1,45) scale(0.999,1)" font-family="'Liberation Sans', sans-serif" font-size="9.8" textLength="16.3" lengthAdjust="spacingAndGlyphs" fill="#1a1a1a" stroke="#1a1a1a" stroke-width="0.25">IBLs</text>
<line x1="267.1" y1="15" x2="283.8" y2="15" stroke="#008000" stroke-width="1.6" fill="none"/>
<text transform="translate(288.9,18.4) scale(0.999,1)" font-family="'Liberation Sans', sans-serif" font-size="9.8" textLength="18.6" lengthAdjust="spacingAndGlyphs" fill="#1a1a1a" stroke="#1a1a1a" stroke-width="0.25">LBLs</text>
<line x1="267.1" y1="28.3" x2="283.8" y2="28.3" stroke="#bfbf00" stroke-width="1.6" fill="none"/>
<text transform="translate(288.9,31.7) scale(0.999,1)" font-family="'Liberation Sans', sans-serif" font-size="9.8" textLength="16.8" lengthAdjust="spacingAndGlyphs" fill="#1a1a1a" stroke="#1a1a1a" stroke-width="0.25">FRIs</text>
<line x1="267.1" y1="41.6" x2="283.8" y2="41.6" stroke="#bf00bf" stroke-width="1.8" fill="none" stroke-dasharray="1.8 2.5"/>
<text transform="translate(288.9,45) scale(0.999,1)" font-family="'Liberation Sans', sans-serif" font-size="9.8" textLength="18.8" lengthAdjust="spacingAndGlyphs" fill="#1a1a1a" stroke="#1a1a1a" stroke-width="0.25">FRIIs</text>
<line x1="568.3" y1="14.6" x2="585.1" y2="14.6" stroke="#000000" stroke-width="1.6" fill="none"/>
<text transform="translate(590.7,18) scale(0.999,1)" font-family="'Liberation Sans', sans-serif" font-size="9.8" textLength="25.5" lengthAdjust="spacingAndGlyphs" fill="#1a1a1a" stroke="#1a1a1a" stroke-width="0.25">FSRQs</text>
<line x1="568.3" y1="27.9" x2="585.1" y2="27.9" stroke="#0000ff" stroke-width="1.6" fill="none" stroke-dasharray="4.4 2"/>
<text transform="translate(590.7,31.3) scale(0.999,1)" font-family="'Liberation Sans', sans-serif" font-size="9.8" textLength="20" lengthAdjust="spacingAndGlyphs" fill="#1a1a1a" stroke="#1a1a1a" stroke-width="0.25">HBLs</text>
<line x1="568.3" y1="41" x2="585.1" y2="41" stroke="#ff0000" stroke-width="1.6" fill="none" stroke-dasharray="7.4 2.2 1.1 2.2"/>
<text transform="translate(590.7,44.4) scale(0.999,1)" font-family="'Liberation Sans', sans-serif" font-size="9.8" textLength="16.3" lengthAdjust="spacingAndGlyphs" fill="#1a1a1a" stroke="#1a1a1a" stroke-width="0.25">IBLs</text>
<line x1="631.8" y1="14.6" x2="648.7" y2="14.6" stroke="#008000" stroke-width="1.6" fill="none"/>
<text transform="translate(654.3,18) scale(0.999,1)" font-family="'Liberation Sans', sans-serif" font-size="9.8" textLength="18.6" lengthAdjust="spacingAndGlyphs" fill="#1a1a1a" stroke="#1a1a1a" stroke-width="0.25">LBLs</text>
<line x1="631.8" y1="27.9" x2="648.7" y2="27.9" stroke="#bfbf00" stroke-width="1.6" fill="none"/>
<text transform="translate(654.3,31.3) scale(0.999,1)" font-family="'Liberation Sans', sans-serif" font-size="9.8" textLength="16.8" lengthAdjust="spacingAndGlyphs" fill="#1a1a1a" stroke="#1a1a1a" stroke-width="0.25">FRIs</text>
<line x1="631.8" y1="41" x2="648.7" y2="41" stroke="#bf00bf" stroke-width="2.4" fill="none" stroke-dasharray="2.4 2.95"/>
<text transform="translate(654.3,44.4) scale(0.999,1)" font-family="'Liberation Sans', sans-serif" font-size="9.8" textLength="18.8" lengthAdjust="spacingAndGlyphs" fill="#1a1a1a" stroke="#1a1a1a" stroke-width="0.25">FRIIs</text>
<line x1="38.7" y1="294.6" x2="55.3" y2="294.6" stroke="#000000" stroke-width="1.6" fill="none"/>
<text transform="translate(61.4,298) scale(0.999,1)" font-family="'Liberation Sans', sans-serif" font-size="9.8" textLength="25.5" lengthAdjust="spacingAndGlyphs" fill="#1a1a1a" stroke="#1a1a1a" stroke-width="0.25">FSRQs</text>
<line x1="38.7" y1="307.9" x2="55.3" y2="307.9" stroke="#0000ff" stroke-width="1.6" fill="none" stroke-dasharray="4.4 2"/>
<text transform="translate(61.4,311.3) scale(0.999,1)" font-family="'Liberation Sans', sans-serif" font-size="9.8" textLength="20" lengthAdjust="spacingAndGlyphs" fill="#1a1a1a" stroke="#1a1a1a" stroke-width="0.25">HBLs</text>
<line x1="38.7" y1="321" x2="55.3" y2="321" stroke="#ff0000" stroke-width="1.6" fill="none" stroke-dasharray="7.4 2.2 1.1 2.2"/>
<text transform="translate(61.4,324.4) scale(0.999,1)" font-family="'Liberation Sans', sans-serif" font-size="9.8" textLength="16.3" lengthAdjust="spacingAndGlyphs" fill="#1a1a1a" stroke="#1a1a1a" stroke-width="0.25">IBLs</text>
<line x1="103" y1="294.6" x2="119.5" y2="294.6" stroke="#008000" stroke-width="1.6" fill="none"/>
<text transform="translate(125.5,298) scale(0.999,1)" font-family="'Liberation Sans', sans-serif" font-size="9.8" textLength="18.6" lengthAdjust="spacingAndGlyphs" fill="#1a1a1a" stroke="#1a1a1a" stroke-width="0.25">LBLs</text>
<line x1="103" y1="307.9" x2="119.5" y2="307.9" stroke="#bf00bf" stroke-width="2.1" fill="none" stroke-dasharray="2.1 3.15"/>
<text transform="translate(125.5,311.3) scale(0.999,1)" font-family="'Liberation Sans', sans-serif" font-size="9.8" textLength="16.8" lengthAdjust="spacingAndGlyphs" fill="#1a1a1a" stroke="#1a1a1a" stroke-width="0.25">FRIs</text>
<line x1="103" y1="321" x2="119.5" y2="321" stroke="#bfbf00" stroke-width="1.6" fill="none"/>
<text transform="translate(125.5,324.4) scale(0.999,1)" font-family="'Liberation Sans', sans-serif" font-size="9.8" textLength="18.8" lengthAdjust="spacingAndGlyphs" fill="#1a1a1a" stroke="#1a1a1a" stroke-width="0.25">FRIIs</text>
<line x1="406.7" y1="294.6" x2="423.4" y2="294.6" stroke="#000000" stroke-width="1.6" fill="none"/>
<text transform="translate(429.4,298) scale(0.999,1)" font-family="'Liberation Sans', sans-serif" font-size="9.8" textLength="25.5" lengthAdjust="spacingAndGlyphs" fill="#1a1a1a" stroke="#1a1a1a" stroke-width="0.25">FSRQs</text>
<line x1="406.7" y1="307.9" x2="423.4" y2="307.9" stroke="#0000ff" stroke-width="1.6" fill="none" stroke-dasharray="4.4 2"/>
<text transform="translate(429.4,311.3) scale(0.999,1)" font-family="'Liberation Sans', sans-serif" font-size="9.8" textLength="20" lengthAdjust="spacingAndGlyphs" fill="#1a1a1a" stroke="#1a1a1a" stroke-width="0.25">HBLs</text>
<line x1="406.7" y1="321" x2="423.4" y2="321" stroke="#ff0000" stroke-width="1.6" fill="none" stroke-dasharray="7.4 2.2 1.1 2.2"/>
<text transform="translate(429.4,324.4) scale(0.999,1)" font-family="'Liberation Sans', sans-serif" font-size="9.8" textLength="16.3" lengthAdjust="spacingAndGlyphs" fill="#1a1a1a" stroke="#1a1a1a" stroke-width="0.25">IBLs</text>
<line x1="470.6" y1="294.6" x2="487.2" y2="294.6" stroke="#008000" stroke-width="1.6" fill="none"/>
<text transform="translate(493,298) scale(0.999,1)" font-family="'Liberation Sans', sans-serif" font-size="9.8" textLength="18.6" lengthAdjust="spacingAndGlyphs" fill="#1a1a1a" stroke="#1a1a1a" stroke-width="0.25">LBLs</text>
<line x1="470.6" y1="307.9" x2="487.2" y2="307.9" stroke="#bfbf00" stroke-width="1.6" fill="none"/>
<text transform="translate(493,311.3) scale(0.999,1)" font-family="'Liberation Sans', sans-serif" font-size="9.8" textLength="16.8" lengthAdjust="spacingAndGlyphs" fill="#1a1a1a" stroke="#1a1a1a" stroke-width="0.25">FRIs</text>
<line x1="470.6" y1="321" x2="487.2" y2="321" stroke="#bf00bf" stroke-width="2.1" fill="none" stroke-dasharray="2.1 3.2"/>
<text transform="translate(493,324.4) scale(0.999,1)" font-family="'Liberation Sans', sans-serif" font-size="9.8" textLength="18.8" lengthAdjust="spacingAndGlyphs" fill="#1a1a1a" stroke="#1a1a1a" stroke-width="0.25">FRIIs</text>
</svg>
</body></html>
